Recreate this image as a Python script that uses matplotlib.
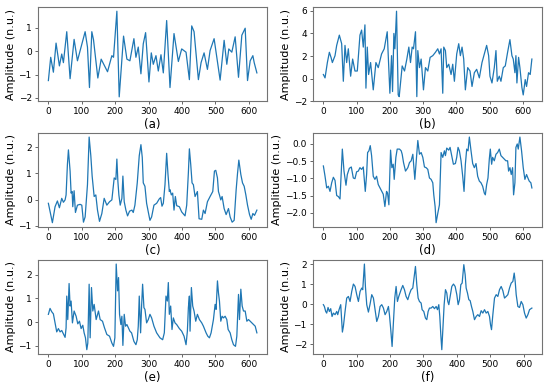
import matplotlib
matplotlib.use("Agg")
import matplotlib.pyplot as plt

# (sample index, amplitude)
sig_a = [(0, -1.26), (7, -0.26), (15, -0.9), (23, 0.35), (33, -0.63), (40, -0.12), (45, -0.49),
         (55, 0.84), (65, -1.18), (77, 0.51), (87, -0.41), (110, 0.84), (117, 0.18), (123, -1.56),
         (130, 0.84), (135, 0.5), (148, -1.15), (158, -0.34), (177, -0.88), (190, -0.19), (195, -0.26),
         (205, 1.72), (212, -1.96), (225, 0.65), (235, -0.34), (244, -0.41), (256, 0.54), (262, -0.26),
         (269, 0.18), (277, -0.97), (284, 0.32), (291, 0.8), (301, -1.32), (308, -0.07), (314, -0.56),
         (322, -0.19), (329, -0.85), (337, -0.15), (344, -0.93), (354, 1.32), (364, -1.56), (376, 0.76),
         (389, -0.44), (399, 0.1), (412, -0.04), (422, -1.22), (429, 1.09), (436, 0.84), (449, -1.22),
         (457, -0.49), (466, -0.07), (476, -0.78), (484, 0.03), (496, 0.54), (514, -1.24), (526, 0.47),
         (534, -0.56), (540, 0.1), (549, -0.04), (559, 0.62), (569, -1.12), (579, 0.69), (589, 0.99),
         (596, -1.26), (604, -0.41), (612, -0.19), (616, -0.49), (624, -0.93)]

sig_b = [(0, 0.36), (5, 0.06), (12, 1.42), (18, 2.33), (23, 1.88), (27, 1.42), (35, 2.03), (40, 2.94),
         (48, 3.85), (55, 3.09), (60, -0.24), (65, 2.94), (70, 1.42), (75, 2.64), (82, 0.21), (88, 1.73),
         (95, 0.67), (102, 0.67), (110, 3.85), (115, 4.3), (120, 2.79), (125, 4.76), (128, -0.85),
         (132, 2.79), (136, 0.36), (142, 1.42), (150, -1.0), (158, 1.42), (165, 0.97), (175, 2.18),
         (183, 2.64), (192, 4.15), (200, -1.3), (205, 2.03), (208, -1.15), (212, 4.0), (215, 2.64),
         (220, 5.97), (225, -1.45), (228, -1.6), (237, 1.12), (244, 0.67), (251, 1.73), (257, 2.79),
         (262, 1.42), (267, 2.79), (271, 2.64), (277, 4.15), (281, -1.6), (284, 2.48), (289, 0.97),
         (294, 1.73), (301, -1.0), (307, 0.97), (314, 0.67), (321, 1.88), (329, 2.03), (337, 2.33),
         (344, 2.64), (349, 2.18), (354, 2.64), (359, -1.3), (362, 2.79), (367, 2.48), (371, 0.97),
         (377, 1.27), (384, 0.36), (389, 1.27), (394, -0.24), (401, 2.18), (407, 3.09), (412, 2.03),
         (417, 2.79), (422, 1.73), (427, -1.0), (434, 0.97), (441, 0.67), (447, -0.7), (454, 0.52),
         (461, 0.82), (469, 0.06), (477, 1.42), (484, 2.18), (491, 2.94), (497, 2.03), (501, 0.21),
         (507, -0.39), (514, 0.97), (519, 2.48), (523, -0.24), (529, 0.21), (534, -0.24), (541, 0.97),
         (547, 1.12), (554, 2.33), (561, 3.45), (567, 2.03), (571, 1.73), (576, 0.52), (579, 2.03),
         (582, -0.39), (587, 1.88), (591, 0.97), (597, -0.79), (601, -1.45), (607, -0.09), (611, -0.7),
         (617, 0.52), (622, 0.36), (627, 1.73)]

sig_c = [(0, -0.14), (7, -0.57), (12, -0.88), (20, -0.27), (27, -0.05), (33, -0.31), (40, 0.05),
         (45, -0.1), (50, -0.01), (53, 0.18), (57, 1.35), (60, 1.9), (65, 1.09), (68, 0.25), (71, 0.31),
         (73, -0.27), (77, 0.34), (81, -0.49), (87, -0.21), (95, -0.18), (100, -0.21), (105, -0.86),
         (110, -0.66), (117, 0.57), (122, 2.39), (127, 1.68), (131, 0.9), (137, 0.12), (142, 0.18),
         (147, -0.4), (153, -0.83), (160, -0.53), (167, 0.05), (175, -0.21), (183, -0.08), (190, -0.01),
         (197, 0.83), (202, 0.77), (205, 1.55), (208, 0.7), (211, 0.18), (215, -0.21), (220, 0.05),
         (223, 0.9), (227, -0.08), (232, -0.4), (237, -0.62), (243, -0.44), (250, -0.4), (254, -0.49),
         (259, -0.21), (266, 0.64), (272, 1.68), (277, 2.1), (281, 1.61), (284, 0.64), (289, 0.51),
         (294, -0.14), (301, -0.6), (304, -0.79), (309, -0.66), (316, -0.21), (324, -0.14), (332, 0.03),
         (336, 0.08), (340, -0.25), (344, -0.14), (349, 0.57), (354, 1.77), (358, 0.96), (362, 0.31),
         (364, 0.38), (368, 0.18), (372, 0.25), (376, -0.4), (380, 0.12), (384, -0.23), (392, -0.27),
         (399, -0.47), (409, -0.62), (414, -0.21), (419, 1.03), (422, 1.94), (426, 1.35), (430, 0.64),
         (434, 0.57), (439, 0.12), (446, 0.31), (451, -0.73), (459, -0.75), (464, -0.4), (469, -0.53),
         (476, -0.08), (484, 0.12), (492, 0.31), (497, 1.09), (501, 1.12), (506, 0.83), (509, 0.31),
         (512, 0.18), (516, -0.01), (520, 0.12), (526, -0.34), (532, -0.57), (539, -0.34), (544, -0.66),
         (550, -0.86), (556, -0.79), (562, 0.38), (566, 0.99), (570, 1.51), (576, 0.96), (581, 0.64),
         (586, 0.51), (591, 0.18), (596, -0.21), (602, -0.57), (607, -0.75), (612, -0.53), (617, -0.6),
         (624, -0.4)]

sig_d = [(0, -0.64), (5, -0.94), (10, -1.28), (15, -1.23), (20, -1.38), (25, -1.13), (30, -0.97),
         (35, -1.06), (40, -1.5), (45, -1.53), (50, -1.6), (54, -0.79), (57, -0.15), (62, -0.79),
         (68, -1.2), (72, -0.89), (78, -0.71), (84, -0.67), (90, -0.99), (95, -1.01), (100, -0.81),
         (105, -0.79), (110, -0.69), (115, -0.74), (120, -0.67), (126, -1.38), (130, -0.89), (133, -0.25),
         (137, -0.2), (141, -0.05), (145, -0.34), (150, -0.94), (155, -1.03), (160, -0.94), (165, -1.18),
         (173, -1.33), (180, -1.46), (185, -1.82), (190, -1.38), (193, -1.43), (197, -1.77), (200, -0.79),
         (202, -0.18), (206, -0.69), (210, -0.59), (213, -1.03), (218, -0.39), (222, -0.15), (229, -0.15),
         (234, -0.2), (237, -0.3), (241, -0.54), (247, -0.79), (254, -0.69), (259, -0.54), (264, -0.49),
         (269, -0.3), (272, -0.67), (275, -1.03), (279, -0.54), (284, 0.1), (289, -0.3), (294, -0.25),
         (299, -0.39), (304, -0.67), (309, -0.69), (314, -0.74), (319, -0.99), (324, -1.03), (329, -1.13),
         (332, -1.48), (336, -1.82), (339, -2.29), (344, -2.02), (349, -1.77), (354, -0.25), (359, -0.39),
         (364, -0.2), (367, -0.34), (371, -0.12), (377, -0.18), (381, -0.1), (385, -0.3), (391, -0.59),
         (397, -0.57), (401, -0.39), (405, -0.1), (409, -0.2), (414, -0.49), (419, -0.94), (423, -1.38),
         (427, -0.59), (431, -0.15), (435, -0.2), (439, 0.2), (444, -0.2), (449, -0.57), (454, -0.69),
         (459, -0.57), (464, -0.94), (469, -1.08), (474, -1.13), (479, -1.23), (484, -1.43), (487, -1.48),
         (491, -1.18), (495, -0.99), (499, -0.44), (502, -0.15), (506, -0.59), (509, -0.39), (514, -0.49),
         (519, -0.3), (524, -0.25), (529, -0.15), (534, -0.34), (539, -0.39), (544, -0.44), (549, -0.49),
         (554, -0.49), (557, -0.79), (561, -0.69), (565, -0.89), (569, -0.69), (572, -1.48), (576, -1.13),
         (579, -0.1), (583, 0.0), (586, -0.15), (591, 0.2), (596, -0.2), (601, -0.69), (606, -1.03),
         (611, -0.89), (615, -0.99), (619, -1.08), (624, -1.13), (627, -1.28)]

sig_e = [(0, 0.33), (5, 0.58), (10, 0.44), (15, 0.35), (20, -0.03), (25, -0.41), (30, -0.27), (35, -0.41),
         (40, -0.35), (45, -0.5), (50, -0.64), (53, -0.24), (55, 1.1), (58, 0.11), (62, 1.63), (65, 0.68),
         (68, 0.89), (72, -0.03), (77, 0.47), (83, 0.25), (88, -0.07), (93, 0.04), (98, -0.27), (103, -0.13),
         (107, -0.45), (111, -0.66), (115, -1.16), (118, -0.88), (122, 1.6), (125, -0.66), (129, 1.46),
         (133, 0.47), (137, 0.75), (143, 0.11), (150, 0.47), (155, 0.11), (162, 0.04), (168, -0.24),
         (175, -0.52), (183, -0.59), (190, -0.88), (195, -1.02), (199, -0.66), (203, 2.45), (207, 1.32),
         (210, 1.88), (213, 0.33), (217, -0.1), (220, 0.25), (223, -0.98), (227, 0.33), (231, -0.17),
         (235, -0.1), (244, -0.38), (249, -0.45), (256, -0.81), (262, -0.95), (266, -0.74), (269, -0.17),
         (272, 1.1), (276, -0.45), (279, 0.68), (282, 1.6), (286, 0.61), (289, 0.54), (294, -0.03),
         (299, 0.11), (304, 0.33), (309, 0.18), (316, -0.17), (324, -0.45), (334, -0.66), (342, -0.74),
         (347, -0.45), (352, 1.1), (356, 0.89), (359, 1.67), (362, 0.33), (366, 0.68), (370, -0.31),
         (374, 0.18), (379, -0.03), (384, -0.1), (392, -0.27), (399, -0.38), (406, -0.59), (412, -0.95),
         (416, -0.38), (419, 0.61), (422, 1.1), (424, -0.38), (428, 1.46), (432, 0.68), (436, 0.47),
         (441, 0.04), (446, 0.33), (452, 0.11), (459, -0.03), (464, -0.17), (472, -0.45), (477, -0.59),
         (482, -0.66), (487, -0.45), (494, 0.11), (499, 0.75), (502, 0.54), (506, 1.74), (509, 1.24),
         (512, 0.89), (516, 0.04), (520, 0.25), (524, 0.18), (529, 0.25), (534, 0.11), (538, -0.31),
         (544, -0.45), (549, -0.74), (554, -0.95), (560, -1.02), (564, -0.59), (569, 1.17), (572, 0.11),
         (576, 1.39), (580, 0.68), (584, 0.47), (589, 0.47), (594, 0.04), (599, 0.11), (604, 0.04),
         (609, -0.03), (614, -0.1), (619, -0.17), (624, -0.45)]

sig_f = [(0, -0.03), (3, -0.12), (7, -0.37), (10, -0.45), (14, -0.17), (18, -0.37), (22, -0.23), (26, -0.62),
         (30, -0.45), (35, -0.53), (40, -0.37), (43, -0.53), (47, -0.28), (52, -0.03), (57, -1.4), (60, -1.12),
         (65, -0.37), (70, 0.3), (75, 0.38), (80, 0.13), (85, 0.63), (90, 1.0), (95, 0.88), (100, 0.47),
         (105, 0.13), (110, 0.63), (115, 0.8), (118, 0.72), (123, 2.0), (126, 0.88), (130, -0.03),
         (135, -0.4), (140, 0.0), (145, 0.47), (150, 0.3), (155, -0.28), (160, -0.87), (165, -0.62),
         (170, -0.12), (175, -0.03), (180, -0.2), (185, -0.53), (190, -0.37), (195, -0.12), (198, -0.53),
         (202, -1.28), (206, -2.12), (210, -0.87), (214, 0.3), (218, 0.88), (222, 0.13), (226, 0.38),
         (233, 0.72), (238, 0.93), (243, 0.72), (248, 0.38), (253, 0.22), (258, 0.5), (263, 0.72), (268, 0.8),
         (273, 1.47), (276, 1.88), (280, 0.97), (284, 0.3), (288, 0.13), (293, 0.05), (296, -0.28),
         (301, -0.37), (306, -0.7), (310, -0.78), (314, -0.37), (318, -0.2), (323, -0.2), (328, -0.12),
         (333, -0.23), (338, -0.12), (342, -0.28), (346, -0.03), (349, -0.62), (352, -1.53), (355, -2.28),
         (358, -1.28), (362, -0.03), (366, 0.72), (370, 0.55), (373, 0.13), (376, -0.03), (380, 0.38),
         (385, 0.88), (390, 1.0), (395, 0.88), (400, 0.47), (404, -0.03), (408, 0.22), (412, 0.97),
         (416, 1.05), (421, 1.97), (425, 1.47), (428, 0.8), (432, 0.55), (436, 0.22), (440, 0.17),
         (444, -0.12), (448, -0.37), (453, -0.78), (458, -0.62), (463, -0.53), (468, -0.62), (473, -0.33),
         (478, -0.45), (483, -0.28), (488, -0.45), (493, -0.37), (498, -0.62), (501, -1.03), (504, -1.28),
         (508, -0.53), (513, 0.3), (518, 0.47), (523, 0.38), (528, 0.72), (533, 0.88), (538, 0.67),
         (543, 0.3), (548, 0.38), (553, 0.47), (558, 0.8), (563, 1.05), (568, 1.13), (572, 1.55),
         (575, 1.13), (578, 0.47), (583, -0.12), (588, -0.17), (593, 0.13), (598, -0.03), (603, -0.45),
         (608, -0.7), (613, -0.53), (618, -0.28), (625, -0.2)]

signals = [sig_a, sig_b, sig_c, sig_d, sig_e, sig_f]
labels = ["(a)", "(b)", "(c)", "(d)", "(e)", "(f)"]
y_ticks = [[-2, -1, 0, 1], [-2, 0, 2, 4, 6], [-1, 0, 1, 2],
           [-2.0, -1.5, -1.0, -0.5, 0.0], [-1, 0, 1, 2], [-2, -1, 0, 1, 2]]
x_ticks = [0, 100, 200, 300, 400, 500, 600]

fig = plt.figure(figsize=(5.5, 3.86), dpi=100)
lefts = [0.069, 0.569]
bottoms = [0.738, 0.412, 0.083]

for i, sig in enumerate(signals):
    row, col = divmod(i, 2)
    ax = fig.add_axes([lefts[col], bottoms[row], 0.417, 0.244])
    t, v = zip(*sig)
    ax.plot(t, v, color="#1f77b4", lw=0.9)
    ax.set_xticks(x_ticks)
    ax.set_yticks(y_ticks[i])
    ax.set_ylabel("Amplitude (n.u.)", fontsize=8, labelpad=2)
    ax.set_xlabel(labels[i], fontsize=8.5, labelpad=1)
    ax.tick_params(labelsize=6.5, length=2.5, width=0.6, pad=2, color="0.3")
    for s in ax.spines.values():
        s.set_color("0.45")
        s.set_linewidth(0.8)

fig.savefig("out.png", dpi=100)
